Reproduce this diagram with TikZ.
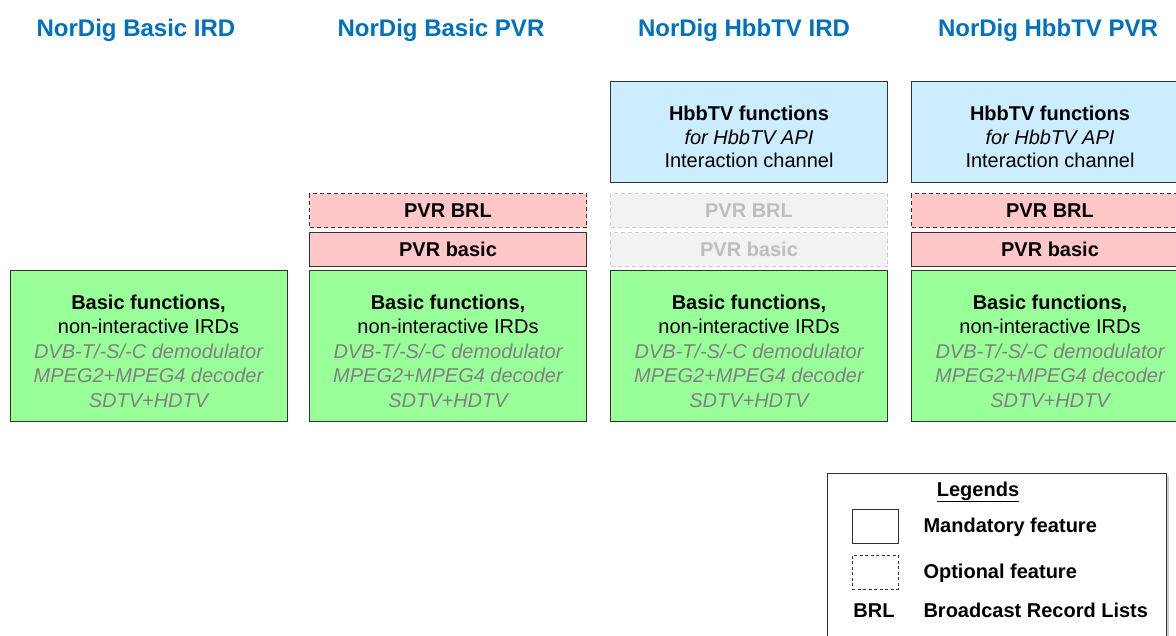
\documentclass[tikz,border=0pt]{standalone}
\usepackage{fontspec}
\setmainfont{Liberation Sans}
\usetikzlibrary{positioning,shadows}

\definecolor{titleblue}{RGB}{0,112,192}
\definecolor{basicgreen}{RGB}{153,255,153}
\definecolor{pvrpink}{RGB}{255,199,199}
\definecolor{hbbblue}{RGB}{204,236,255}
\definecolor{ghostfill}{RGB}{242,242,242}
\definecolor{ghostline}{RGB}{205,205,205}
\definecolor{ghosttext}{RGB}{190,190,190}
\definecolor{detailgray}{RGB}{128,128,128}
\definecolor{edge}{RGB}{50,50,50}

\newcommand{\basicfeatures}{\rule{0pt}{25pt}\textbf{Basic functions,}\\ non-interactive IRDs\\
    \textcolor{detailgray}{\itshape DVB-T/-S/-C demodulator}\\
    \textcolor{detailgray}{\itshape MPEG2+MPEG4 decoder}\\
    \textcolor{detailgray}{\itshape SDTV+HDTV}}
\newcommand{\hbbfeatures}{\rule{0pt}{25pt}\textbf{HbbTV functions}\\ \textit{for HbbTV API}\\ Interaction channel}

\begin{document}
\begin{tikzpicture}[x=1pt, y=-1pt,
    titlenode/.style={anchor=base, text=titleblue, font=\fontsize{24}{28}\selectfont\bfseries},
    featbox/.style={draw=edge, line width=1pt, minimum width=277pt, inner sep=0pt, align=center},
    basicbox/.style={featbox, fill=basicgreen, minimum height=151pt, font=\fontsize{20}{24.5}\selectfont},
    hbbbox/.style={featbox, fill=hbbblue, minimum height=101pt, font=\fontsize{20}{23.5}\selectfont},
    pvrbox/.style={featbox, fill=pvrpink, minimum height=34pt, font=\fontsize{20}{24}\selectfont\bfseries},
    brlbox/.style={pvrbox, dash pattern=on 4pt off 3pt},
    ghostbox/.style={pvrbox, draw=ghostline, fill=ghostfill, text=ghosttext, dash pattern=on 4pt off 3pt},
    legendtext/.style={anchor=base west, font=\fontsize{20}{24}\selectfont\bfseries},
    keybox/.style={draw=edge, line width=1pt, minimum width=46pt, minimum height=34pt, inner sep=0pt}
    ]
        \useasboundingbox (0,0) rectangle (1176,635);

        %Titles
        \node[titlenode] (titleBasicIrd) at (136,36) {NorDig Basic IRD};
        \node[titlenode] (titleBasicPvr) at (441,36) {NorDig Basic PVR};
        \node[titlenode] (titleHbbIrd) at (744,36) {NorDig HbbTV IRD};
        \node[titlenode] (titleHbbPvr) at (1048,36) {NorDig HbbTV PVR};

        %Basic functions
        \node[basicbox] (basicIrd) at (148.5,346) {\basicfeatures};
        \node[basicbox] (basicPvr) at (448,346) {\basicfeatures};
        \node[basicbox] (hbbIrd) at (749,346) {\basicfeatures};
        \node[basicbox] (hbbPvr) at (1050,346) {\basicfeatures};

        %PVR layers
        \node[pvrbox]
            (pvrBasic)      [above=3pt of basicPvr]     {PVR basic};
        \node[brlbox]
            (pvrBrl)        [above=4pt of pvrBasic]     {PVR BRL};
        \node[ghostbox]
            (ghostBasic)    [above=3pt of hbbIrd]       {PVR basic};
        \node[ghostbox]
            (ghostBrl)      [above=4pt of ghostBasic]   {PVR BRL};
        \node[pvrbox]
            (hbbPvrBasic)   [above=3pt of hbbPvr]       {PVR basic};
        \node[brlbox]
            (hbbPvrBrl)     [above=4pt of hbbPvrBasic]  {PVR BRL};

        %HbbTV layers
        \node[hbbbox]
            (hbbFuncIrd)    [above=10pt of ghostBrl]    {\hbbfeatures};
        \node[hbbbox]
            (hbbFuncPvr)    [above=10pt of hbbPvrBrl]   {\hbbfeatures};

        %Legend
        \node[draw=edge, line width=1pt, fill=white, minimum width=339pt, minimum height=180pt,
            drop shadow={opacity=0.4, fill=gray, shadow xshift=3pt, shadow yshift=-3pt}]
            (legend) at (996.5,563) {};
        \node[anchor=base, font=\fontsize{20}{24}\selectfont\bfseries]
            (legendTitle) at (978,496) {\underline{Legends}};
        \node[keybox] (mandKey) at (875,526) {};
        \node[legendtext] (mandText) at (920,532) {Mandatory feature};
        \node[keybox, dash pattern=on 3pt off 2.5pt] (optKey) at (875,572) {};
        \node[legendtext] (optText) at (920,578) {Optional feature};
        \node[legendtext, anchor=base] (brlKey) at (874,617) {BRL};
        \node[legendtext] (brlText) at (920,617) {Broadcast Record Lists};
    \end{tikzpicture}
\end{document}
